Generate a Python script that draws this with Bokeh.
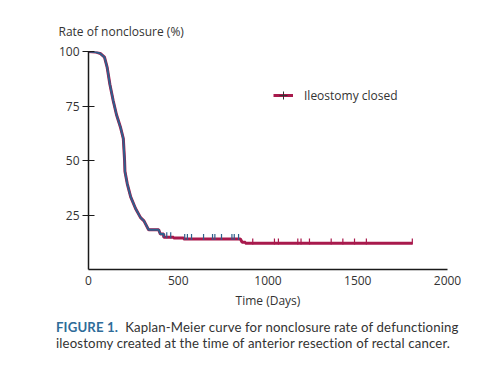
import numpy as np
from bokeh.plotting import figure
from bokeh.models import Legend, LegendItem, FixedTicker, ColumnDataSource, Range1d, Div
from bokeh.layouts import column
from bokeh.embed import file_html
from bokeh.resources import INLINE

# Kaplan-Meier curve (days, % not closed)
km_days = [0, 39, 67, 89, 104, 119, 138, 156, 179, 194, 201, 203, 216, 235, 262, 290, 309,
           335, 391, 400, 419, 419, 474, 474, 530, 530, 846, 856, 874, 874, 1804]
km_rate = [100, 99.8, 99, 97.4, 92.7, 85, 77.3, 71, 65, 60, 50, 45, 39.3, 33.3, 28, 23.8, 22.3,
           18.2, 18.2, 16.3, 16.3, 14.8, 14.8, 14.4, 14.4, 14.0, 14.0, 12.5, 12.5, 12.0, 12.0]

# censored observations
cens_days = [436, 458, 536, 551, 574, 641, 691, 704, 741, 799, 812, 836,
             915, 1036, 1058, 1166, 1184, 1231, 1352, 1417, 1482, 1548, 1804]
cens_rate = [14.8, 14.8, 14.0, 14.0, 14.0, 14.0, 14.0, 14.0, 14.0, 14.0, 14.0, 14.0,
             12.0, 12.0, 12.0, 12.0, 12.0, 12.0, 12.0, 12.0, 12.0, 12.0, 12.0]

y_ticks = [25, 50, 75, 100]
x_ticks = [0, 500, 1000, 1500, 2000]

CRIMSON = "#a8194c"
BLUE = "#2f5f8c"
TXT = "#333333"
FONT = "Open Sans"

p = figure(width=486, height=314, frame_width=359, frame_height=218,
           min_border_left=88, min_border_right=39, min_border_top=51, min_border_bottom=45,
           x_range=Range1d(0, 2000), y_range=Range1d(0, 100),
           output_backend="svg", toolbar_location=None,
           title="Rate of nonclosure (%)")
p.outline_line_color = None
p.grid.visible = False
p.background_fill_color = "white"
p.border_fill_color = "white"

p.title.align = "left"
p.title.offset = -30
p.title.standoff = 23
p.title.text_font = FONT
p.title.text_font_size = "12px"
p.title.text_font_style = "normal"
p.title.text_color = TXT

# y axis
ya = p.yaxis[0]
ya.ticker = FixedTicker(ticks=y_ticks)
ya.major_tick_in = 6
ya.major_tick_out = 6
ya.minor_tick_line_color = None
ya.major_label_standoff = 3
ya.axis_line_width = 1.5
ya.axis_line_color = "#1a1a1a"
ya.major_tick_line_color = "#1a1a1a"
ya.major_tick_line_width = 1.2
ya.major_label_text_font = FONT
ya.major_label_text_font_size = "12px"
ya.major_label_text_color = TXT

# x axis
xa = p.xaxis[0]
xa.ticker = FixedTicker(ticks=x_ticks)
xa.major_tick_in = 0
xa.major_tick_out = 0
xa.minor_tick_line_color = None
xa.major_label_standoff = 6
xa.axis_line_width = 1.5
xa.axis_line_color = "#1a1a1a"
xa.major_label_text_font = FONT
xa.major_label_text_font_size = "12px"
xa.major_label_text_color = TXT
xa.axis_label = "Time (Days)"
xa.axis_label_standoff = 4
xa.axis_label_text_font = FONT
xa.axis_label_text_font_size = "12px"
xa.axis_label_text_font_style = "normal"
xa.axis_label_text_color = TXT

# curves
src = ColumnDataSource(dict(x=km_days, y=km_rate))
r_main = p.line("x", "y", source=src, line_color=CRIMSON, line_width=3)
blue_n = sum(1 for d in km_days if d <= 419)
p.line(km_days[:blue_n], km_rate[:blue_n], line_color=BLUE, line_width=2)

cens_col = [BLUE if d < 900 else CRIMSON for d in cens_days]
cens_y = [v + 0.9 for v in cens_rate]
p.scatter(x=cens_days, y=cens_y, marker="dash", angle=np.pi / 2, size=6,
          line_color=cens_col, line_width=1.2)

# legend (line with a censor tick); the tick renderer has no visible point
r_leg_tick = p.scatter(x=[np.nan], y=[np.nan], marker="cross", size=9,
                       line_color="#333333", line_width=1)
legend = Legend(items=[LegendItem(label="Ileostomy closed", renderers=[r_main, r_leg_tick])],
                location=(185, 164), glyph_width=20, glyph_height=20, label_standoff=11,
                padding=0, margin=0, border_line_color=None, background_fill_alpha=0,
                label_text_font=FONT, label_text_font_size="12px", label_text_color=TXT)
p.add_layout(legend, "center")

caption = Div(
    text=('<div style="font-family:Lato;font-size:13.2px;letter-spacing:0.15px;line-height:16px;'
          'color:#333333;padding-left:56px;padding-top:5px;white-space:nowrap;">'
          '<span style="font-weight:bold;color:#2e6c99;">FIGURE 1.</span>&nbsp;&nbsp;'
          'Kaplan-Meier curve for nonclosure rate of defunctioning<br>'
          'ileostomy created at the time of anterior resection of rectal cancer.</div>'),
    width=486, height=45, margin=0)

layout = column(p, caption, spacing=0)
open("out.html", "w").write(file_html(layout, INLINE))
